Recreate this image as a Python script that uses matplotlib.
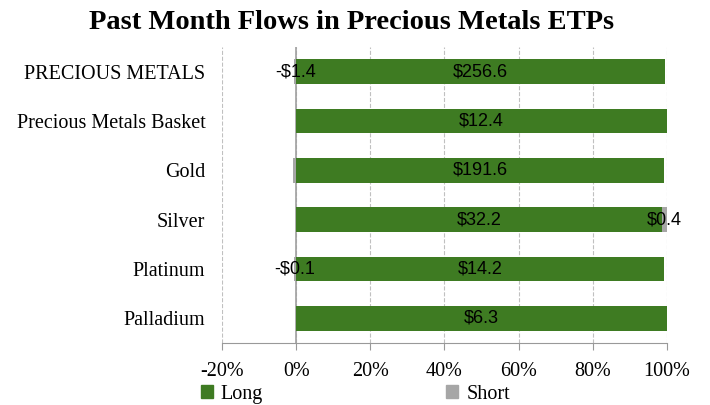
import matplotlib
matplotlib.use("Agg")
import matplotlib.pyplot as plt
from matplotlib.ticker import FuncFormatter

# flows in $ millions, long and short products per metal
categories = ["PRECIOUS METALS", "Precious Metals Basket", "Gold", "Silver", "Platinum", "Palladium"]
long_flows = [256.6, 12.4, 191.6, 32.2, 14.2, 6.3]
short_flows = [-1.4, 0.0, -1.5, 0.4, -0.1, 0.0]
# which short flows get a value label
short_labelled = [True, False, False, True, True, False]

green = "#3e7b22"
grey = "#a6a6a6"

fig = plt.figure(figsize=(7.1, 4.05), dpi=100)
ax = fig.add_axes([0.3127, 0.153, 0.6267, 0.731])

for i, (lg, sh) in enumerate(zip(long_flows, short_flows)):
    total = lg + abs(sh)
    lp = lg / total * 100
    sp = sh / total * 100
    ax.barh(i, lp, height=0.5, color=green, zorder=3)
    # negative short flows sit left of zero, positive ones stack after long
    if sh < 0:
        ax.barh(i, sp, height=0.5, color=grey, zorder=3)
        sx = sp / 2
    elif sh > 0:
        ax.barh(i, sp, left=lp, height=0.5, color=grey, zorder=3)
        sx = lp + sp / 2
    ax.text(lp / 2, i, f"${lg:.1f}", ha="center", va="center",
            fontsize=13, family="Liberation Sans", zorder=4)
    if short_labelled[i]:
        lab = f"-${abs(sh):.1f}" if sh < 0 else f"${sh:.1f}"
        ax.text(sx, i, lab, ha="center", va="center",
                fontsize=13, family="Liberation Sans", zorder=4)

ax.set_ylim(5.5, -0.5)
ax.set_xlim(-20, 100)
ax.set_xticks(range(-20, 101, 20))
ax.xaxis.set_major_formatter(FuncFormatter(lambda v, p: f"{v:.0f}%"))
ax.set_yticks(range(len(categories)))
ax.set_yticklabels(categories, family="Liberation Serif", fontsize=14.5)
ax.tick_params(axis="y", length=0, pad=12)
ax.tick_params(axis="x", direction="out", length=5, color="#999999", labelsize=14.5, pad=9)
for t in ax.get_xticklabels():
    t.set_family("Liberation Serif")

ax.grid(axis="x", linestyle="--", color="#c0c0c0", linewidth=0.8, zorder=0)
ax.axvline(0, color="#a0a0a0", linewidth=1.2, zorder=2)
for s in ["top", "right", "left"]:
    ax.spines[s].set_visible(False)
ax.spines["bottom"].set_color("#999999")

fig.suptitle("Past Month Flows in Precious Metals ETPs", x=0.495, y=0.975,
             fontsize=20.5, fontweight="bold", family="Liberation Serif")

handles = [plt.Rectangle((0, 0), 1, 1, color=green), plt.Rectangle((0, 0), 1, 1, color=grey)]
fig.legend(handles, ["Long", "Short"], loc="lower left", bbox_to_anchor=(0.257, -0.042),
           ncol=2, frameon=False, handlelength=0.6, handleheight=0.6, handletextpad=0.4,
           columnspacing=9.1, prop={"family": "Liberation Serif", "size": 14.5})

fig.savefig("out.png", dpi=100)
